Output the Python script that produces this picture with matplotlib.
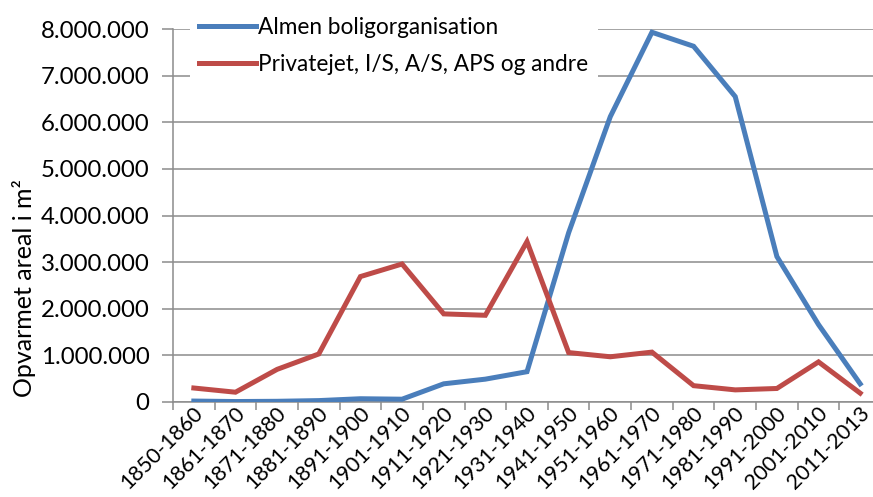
import matplotlib.pyplot as plt
from matplotlib.ticker import FuncFormatter, FixedLocator, NullFormatter
from matplotlib.transforms import ScaledTranslation

plt.rcParams['font.family'] = ['Lato', 'DejaVu Sans']

perioder = ['1850-1860', '1861-1870', '1871-1880', '1881-1890', '1891-1900',
            '1901-1910', '1911-1920', '1921-1930', '1931-1940', '1941-1950',
            '1951-1960', '1961-1970', '1971-1980', '1981-1990', '1991-2000',
            '2001-2010', '2011-2013']

# opvarmet areal (m2) pr. ejerforhold
almen = [20000, 10000, 15000, 30000, 70000, 60000, 390000, 490000, 650000,
         3630000, 6120000, 7930000, 7630000, 6550000, 3120000, 1660000, 390000]
privat = [300000, 210000, 700000, 1030000, 2690000, 2960000, 1890000, 1860000,
          3440000, 1060000, 970000, 1070000, 350000, 260000, 290000, 860000, 190000]

W, H = 873, 497
fig = plt.figure(figsize=(W / 100, H / 100), dpi=100)
ax = fig.add_axes([173 / W, 95 / H, (881 - 173) / W, 373 / H])

x = range(len(perioder))
ax.plot(x, almen, color='#4A7EBB', lw=3.6, label='Almen boligorganisation',
        solid_joinstyle='miter', zorder=3)
ax.plot(x, privat, color='#BE4B48', lw=3.6, label='Privatejet, I/S, A/S, APS og andre',
        solid_joinstyle='miter', zorder=3)

ax.set_xlim(-0.5, len(perioder) - 0.5)
ax.set_ylim(0, 8000000)
ax.set_yticks(range(0, 8000001, 1000000))
ax.yaxis.set_major_formatter(FuncFormatter(lambda v, p: f'{v:,.0f}'.replace(',', '.')))
ax.grid(axis='y', color='#8C8C8C', lw=1.1)
ax.set_axisbelow(True)

# streger mellem perioderne, skrå etiketter under midten af hver periode
ax.set_xticks([])
ax.xaxis.set_minor_locator(FixedLocator([i - 0.5 for i in range(len(perioder) + 1)]))
ax.xaxis.set_minor_formatter(NullFormatter())
ax.tick_params(axis='x', which='minor', length=6, width=1.1, color='#8C8C8C')
lbl_trans = ax.get_xaxis_transform() + ScaledTranslation(0.06, -0.08, fig.dpi_scale_trans)
for i, p in enumerate(perioder):
    ax.text(i, 0, p, transform=lbl_trans, rotation=45, ha='right', va='center',
            rotation_mode='anchor', fontsize=15.5)

ax.tick_params(axis='y', length=8, width=1.1, color='#8C8C8C', labelsize=17.3, pad=9)

for side in ['top', 'right']:
    ax.spines[side].set_visible(False)
for side in ['left', 'bottom']:
    ax.spines[side].set_color('#8C8C8C')
    ax.spines[side].set_linewidth(1.1)

fig.text(24 / W, 1 - 288 / H, 'Opvarmet areal i m²', rotation=90,
         ha='center', va='center', fontsize=18)

leg = ax.legend(loc='upper left', bbox_to_anchor=(190 / W, 1 - 8 / H), bbox_transform=fig.transFigure,
                fontsize=16.3, handlelength=2.5, handletextpad=0.12, labelspacing=0.72,
                borderpad=0.4, borderaxespad=0, frameon=True, fancybox=False)
leg.get_frame().set_facecolor('white')
leg.get_frame().set_edgecolor('none')
leg.get_frame().set_alpha(1)

fig.savefig('out.png', dpi=100)
